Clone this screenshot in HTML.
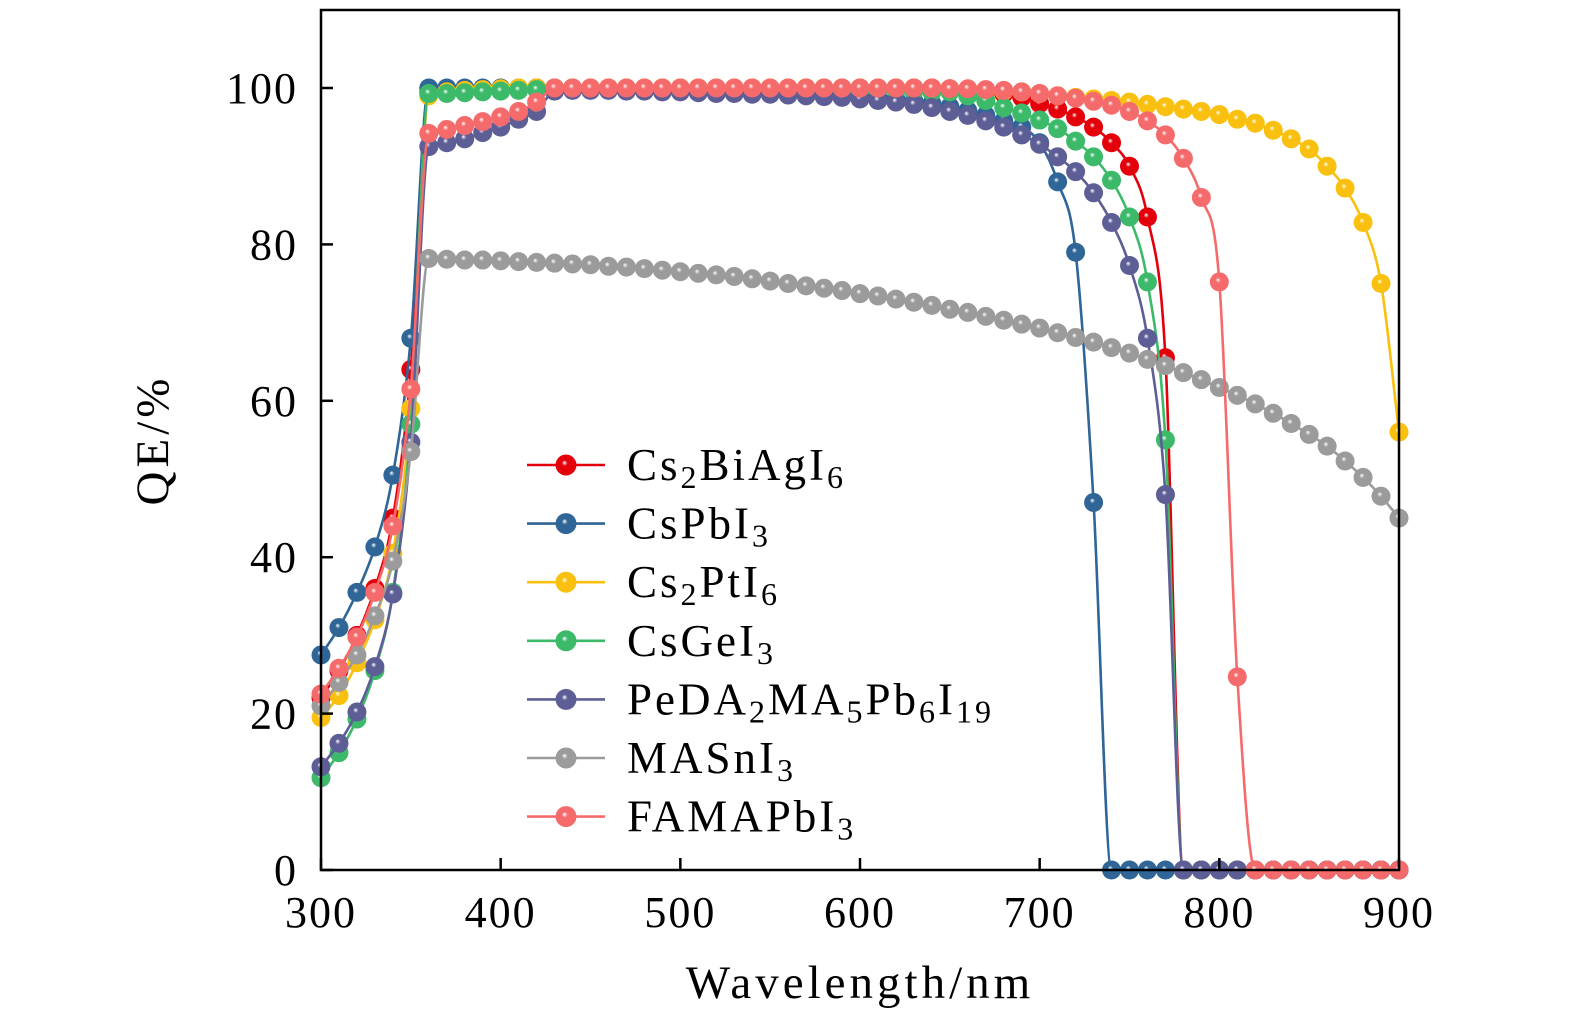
<!DOCTYPE html>
<html><head><meta charset="utf-8"><style>
html,body{margin:0;padding:0;background:#fff;}
svg{display:block;font-family:"Liberation Serif",serif;}
</style></head><body>
<svg id="chart" width="1575" height="1024" viewBox="0 0 1575 1024">
<defs id="defs"></defs>
<g id="series-layer"></g>
<rect x="321" y="10" width="1078" height="860" fill="none" stroke="#000" stroke-width="2.5"/>
<g id="axes"></g>
<g id="legend"></g>
<text x="860" y="998" font-size="47" letter-spacing="4" text-anchor="middle">Wavelength/nm</text>
<text transform="translate(168,440) rotate(-90)" font-size="47" letter-spacing="4" text-anchor="middle">QE/%</text>
</svg>
<script>
const wavelengths = [];
for (let w = 300; w <= 900; w += 10) wavelengths.push(w);
const xTicks = [300,400,500,600,700,800,900];
const yTicks = [0,20,40,60,80,100];
const seriesNames = ["Cs2BiAgI6","CsPbI3","Cs2PtI6","CsGeI3","PeDA2MA5Pb6I19","MASnI3","FAMAPbI3"];
const colorsList = ["#e3000b","#2f6597","#f9c010","#3cba6a","#5e5e96","#9b9b9b","#f56b6b"];

const qeCs2BiAgI6 = [22,25.5,30,36,45,64,99.5,99.6,99.7,99.8,99.9,99.9,100,100,100,100,100,100,100,100,100,100,100,100,100,100,100,100,100,100,100,100,100,100,100,99.9,99.8,99.6,99.3,98.8,98,97.3,96.3,95,93,90,83.5,65.5,0,0,0,0,0,0,0,0,0,0,0,0,0];
const qeCsPbI3 = [27.5,31,35.5,41.3,50.5,68,100,100,100,100,100,100,100,100,100,99.9,99.9,99.9,99.9,99.8,99.8,99.8,99.7,99.6,99.5,99.5,99.4,99.3,99.2,99.1,99,98.8,98.6,98.3,98,97.6,97.1,96.5,95.8,95,93,88,79,47,0,0,0,0,0,0,0,0,0,0,0,0,0,0,0,0,0];
const qeCs2PtI6 = [19.5,22.3,26.5,32,40.5,59,99,99.5,99.7,99.8,99.9,100,100,100,100,100,100,100,100,100,100,100,100,100,100,100,100,100,100,100,100,100,100,100,100,99.9,99.8,99.7,99.6,99.5,99.3,99,98.8,98.6,98.4,98.2,97.9,97.6,97.3,97,96.6,96,95.5,94.6,93.5,92.2,90,87.2,82.8,75,56];
const qeCsGeI3 = [11.8,15,19.3,25.5,35.5,57,99.3,99.3,99.4,99.5,99.6,99.7,99.8,99.9,99.9,99.9,99.9,99.9,99.9,99.9,99.9,99.9,99.9,99.9,99.9,99.9,99.9,99.9,99.9,99.9,99.8,99.8,99.7,99.6,99.5,99.5,99,98.4,97.5,96.8,95.9,94.8,93.2,91.2,88.2,83.5,75.2,55,0,0,0,0,0,0,0,0,0,0,0,0,0];
const qePeDA = [13.2,16.2,20.2,26,35.3,54.7,92.5,93,93.5,94.3,95,96,97,99.6,99.7,99.7,99.7,99.6,99.6,99.5,99.5,99.4,99.3,99.3,99.2,99.2,99.1,99,98.9,98.8,98.6,98.4,98.2,97.9,97.5,97,96.5,95.8,95,94,92.8,91.2,89.3,86.6,82.8,77.3,68,48,0,0,0,0,0,0,0,0,0,0,0,0,0];
const qeMASnI3 = [21,24,27.5,32.5,39.5,53.5,78.2,78.1,78,78,77.9,77.8,77.7,77.6,77.5,77.4,77.2,77.1,76.9,76.7,76.5,76.3,76.1,75.9,75.6,75.3,75,74.7,74.4,74.1,73.7,73.4,73,72.6,72.2,71.7,71.3,70.8,70.3,69.8,69.3,68.7,68.1,67.5,66.8,66.1,65.3,64.5,63.6,62.7,61.7,60.7,59.6,58.4,57.1,55.7,54.2,52.3,50.2,47.8,45];
const qeFAMAPbI3 = [22.5,25.8,29.8,35.5,44,61.5,94.2,94.7,95.2,95.7,96.3,97,98.2,100,100,100,100,100,100,100,100,100,100,100,100,100,100,100,100,100,100,100,100,100,100,99.9,99.9,99.8,99.7,99.5,99.3,99,98.7,98.3,97.8,97,95.8,94,91,86,75.2,24.7,0,0,0,0,0,0,0,0,0];
const seriesValues = [qeCs2BiAgI6,qeCsPbI3,qeCs2PtI6,qeCsGeI3,qePeDA,qeMASnI3,qeFAMAPbI3];

const NS = "http://www.w3.org/2000/svg";
const X0=321, X1=1399, Y0=870, Y100=88;
function xScale(w){ return X0 + (w-300)/600*(X1-X0); }
function yScale(v){ return Y0 - v/100*(Y0-Y100); }
function mk(tag, attrs, parent){ const e=document.createElementNS(NS,tag); for(const k in attrs) e.setAttribute(k,attrs[k]); if(parent) parent.appendChild(e); return e; }

const defs=document.getElementById('defs');
colorsList.forEach((c,i)=>{
  const g=mk('radialGradient',{id:'grad'+i,cx:'0.5',cy:'0.5',r:'0.5',fx:'0.42',fy:'0.38'},defs);
  mk('stop',{offset:'0','stop-color':'#ffffff'},g);
  mk('stop',{offset:'0.28','stop-color':c},g);
  mk('stop',{offset:'1','stop-color':c},g);
});

function monoPath(xs, ys){
  const n=xs.length, d=[], m=[];
  for(let i=0;i<n-1;i++) d.push((ys[i+1]-ys[i])/(xs[i+1]-xs[i]));
  m[0]=d[0]; m[n-1]=d[n-2];
  for(let i=1;i<n-1;i++){ m[i]=(d[i-1]*d[i]<=0)?0:(d[i-1]+d[i])/2; }
  for(let i=0;i<n-1;i++){
    if(d[i]===0){m[i]=0;m[i+1]=0;continue;}
    const a=m[i]/d[i], b=m[i+1]/d[i], s=a*a+b*b;
    if(s>9){const t=3/Math.sqrt(s); m[i]=t*a*d[i]; m[i+1]=t*b*d[i];}
  }
  let p='M'+xs[0].toFixed(2)+','+ys[0].toFixed(2);
  for(let i=0;i<n-1;i++){
    const h=xs[i+1]-xs[i];
    p+=' C'+(xs[i]+h/3).toFixed(2)+','+(ys[i]+m[i]*h/3).toFixed(2)+' '+(xs[i+1]-h/3).toFixed(2)+','+(ys[i+1]-m[i+1]*h/3).toFixed(2)+' '+xs[i+1].toFixed(2)+','+ys[i+1].toFixed(2);
  }
  return p;
}

const layer=document.getElementById('series-layer');
seriesValues.forEach((vals,si)=>{
  const g=mk('g',{},layer);
  
  
  const xs=wavelengths.map(xScale), ys=vals.map(yScale);
  const path=mk('path',{d:monoPath(xs,ys),fill:'none',stroke:colorsList[si],'stroke-width':2.6},g);
  
  
  vals.forEach((v,i)=>{
    const c=mk('circle',{cx:xs[i],cy:ys[i],r:9.5,fill:'url(#grad'+si+')'},g);
    
    
  });
});

const axes=document.getElementById('axes');
xTicks.forEach(t=>{
  const x=xScale(t);
  const l=mk('line',{x1:x,y1:Y0,x2:x,y2:Y0-12,stroke:'#000','stroke-width':2.5},axes);
  
  
  const tx=mk('text',{x:x,y:927,'font-size':44,'letter-spacing':2,'text-anchor':'middle'},axes);
  tx.textContent=t;
  
  
});
yTicks.forEach(t=>{
  const y=yScale(t);
  const l=mk('line',{x1:X0,y1:y,x2:X0+12,y2:y,stroke:'#000','stroke-width':2.5},axes);
  
  
  const tx=mk('text',{x:298,y:y+15,'font-size':44,'letter-spacing':2,'text-anchor':'end'},axes);
  tx.textContent=t;
  
  
});

const legendLabels=[
 ['Cs',['2'],'BiAgI',['6']],
 ['CsPbI',['3']],
 ['Cs',['2'],'PtI',['6']],
 ['CsGeI',['3']],
 ['PeDA',['2'],'MA',['5'],'Pb',['6'],'I',['19']],
 ['MASnI',['3']],
 ['FAMAPbI',['3']]
];
const leg=document.getElementById('legend');
legendLabels.forEach((parts,i)=>{
  const y=465+i*58.6;
  const g=mk('g',{},leg);
  
  
  mk('line',{x1:527,y1:y,x2:605,y2:y,stroke:colorsList[i],'stroke-width':2.6},g);
  mk('circle',{cx:566,cy:y,r:10.5,fill:'url(#grad'+i+')'},g);
  const t=mk('text',{x:627,y:y+15,'font-size':45,'letter-spacing':3},g);
  parts.forEach(p=>{
    const s=mk('tspan',{},t);
    if(Array.isArray(p)){ s.setAttribute('font-size','32'); s.setAttribute('dy','8'); s.textContent=p[0]; }
    else { s.setAttribute('dy', t.childNodes.length>1?'-8':'0'); s.textContent=p; }
  });
});
</script>
</body></html>
